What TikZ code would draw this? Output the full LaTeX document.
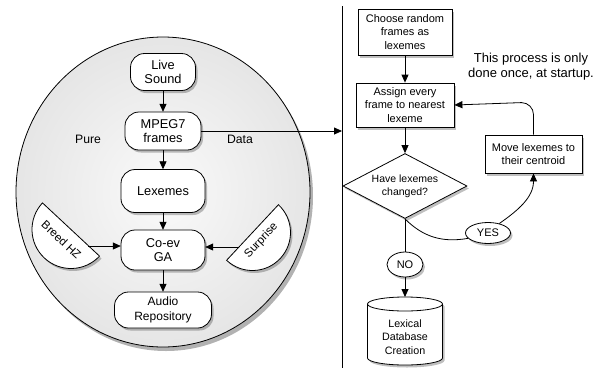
\documentclass[tikz,border=0pt]{standalone}
\usepackage{fontspec}
\setmainfont{Liberation Sans}
\usetikzlibrary{shapes.geometric, arrows.meta, shadows}
\newcommand\rbx[7]{%
  \path[draw, lw, fill=white, shad]
    ({#2-#4+14},{#3-#5}) -- ({#2+#4-14},{#3-#5})
    arc[start angle=90, end angle=0, radius=14pt]
    -- ({#2+#4},{#3+#5-14})
    arc[start angle=0, end angle=-90, radius=14pt]
    -- ({#2-#4+14},{#3+#5})
    arc[start angle=-90, end angle=-180, radius=14pt]
    -- ({#2-#4},{#3-#5+14})
    arc[start angle=180, end angle=90, radius=14pt] -- cycle;
  \node[align=center, inner sep=0pt, minimum width={2*#4}, minimum height={2*#5}, font={#6}] (#1) at (#2,#3) {#7};%
}
\begin{document}
\begin{tikzpicture}[x=1pt,y=-1pt,
  lw/.style={line width=0.8pt},
  shad/.style={drop shadow={shadow xshift=2pt, shadow yshift=-2.5pt, opacity=0.25, fill=black}},
  sbox/.style={draw, lw, fill=white, align=center, inner sep=0pt, shad, font=\fontsize{11}{13.5}\selectfont},
  oval/.style={ellipse, draw, lw, fill=white, shad, inner sep=0pt, font=\fontsize{11}{13}\selectfont},
  arr/.style={lw, -{Triangle[length=8pt,width=7pt]}},
  lbl/.style={font=\fontsize{12.2}{14}\selectfont}
]
\useasboundingbox (0,0) rectangle (595,373);
% big circle
\path[draw, lw, inner color=gray!4, outer color=gray!20,
  drop shadow={shadow xshift=3pt, shadow yshift=-4pt, opacity=0.3, fill=black}]
  (163,192) ellipse [x radius=147pt, y radius=155pt];
% left nodes
\rbx{live}{163}{72}{32.5}{18.5}{\fontsize{12.8}{14.5}\selectfont}{Live\\Sound}
\rbx{mpeg}{163}{131}{38}{19}{\fontsize{12.8}{14.5}\selectfont}{MPEG7\\frames}
\rbx{lex}{163}{191}{42}{21.5}{\fontsize{12.8}{14.5}\selectfont}{Lexemes}
\rbx{coev}{163}{250}{42}{20}{\fontsize{12.8}{14.5}\selectfont}{Co-ev\\GA}
\rbx{audio}{163}{310}{48.5}{18}{\fontsize{12}{14.5}\selectfont}{Audio\\Repository}
% half disks
\begin{scope}[shift={(71,229.5)}, rotate=-43]
  \path[draw, lw, fill=white, shad] (-39pt,0pt) arc[start angle=180, end angle=360, radius=39pt] -- cycle;
  \node[transform shape, font=\fontsize{11.5}{13}\selectfont] (breed) at (0pt,-14pt) {Breed HZ};
\end{scope}
\begin{scope}[shift={(252.5,232.5)}, rotate=47]
  \path[draw, lw, fill=white, shad] (-38pt,0pt) arc[start angle=180, end angle=360, radius=38pt] -- cycle;
  \node[transform shape, font=\fontsize{11.5}{13}\selectfont] (surp) at (0pt,-12pt) {Surprise};
\end{scope}
\node[lbl] (pure) at (88,139) {Pure};
\node[lbl] (data) at (240,139) {Data};
% divider
\coordinate (vtop) at (342,6);
\coordinate (vbot) at (342,368);
\draw[lw] (vtop) -- (vbot);
% right nodes
\node[sbox, minimum width=94pt, minimum height=46pt] (choose) at (405,32) {Choose random\\frames as\\lexemes};
\node[sbox, minimum width=98pt, minimum height=44pt] (assign) at (405,105) {Assign every\\frame to nearest\\lexeme};
\node[diamond, draw, lw, fill=white, shad, minimum width=124pt, minimum height=65pt, aspect=1.9, inner sep=0pt, align=center, font=\fontsize{10.5}{13}\selectfont] (dia) at (405,186) {Have lexemes\\changed?};
\node[sbox, minimum width=97pt, minimum height=38pt] (move) at (533.5,154) {Move lexemes to\\their centroid};
\node[oval, minimum width=45pt, minimum height=21pt] (yes) at (488,233) {YES};
\node[oval, minimum width=36pt, minimum height=25pt] (no) at (405,264.5) {NO};
% cylinder
\path[draw, lw, fill=white, shad] (367.5,304) -- (367.5,358)
  arc[start angle=180, end angle=360, x radius=37.5pt, y radius=7pt] -- (442.5,304)
  arc[start angle=0, end angle=180, x radius=37.5pt, y radius=7pt] -- cycle;
\draw[lw] (367.5,304) arc[start angle=180, end angle=360, x radius=37.5pt, y radius=7pt];
\coordinate (cyltop) at (405,297);
\node[align=center, font=\fontsize{10.7}{13.5}\selectfont] (cyl) at (405,337) {Lexical\\Database\\Creation};
\node[align=center, font=\fontsize{13}{15}\selectfont] (note) at (531,67) {This process is only\\done once, at startup.};
% connectors
\draw[arr] (live) -- (mpeg);
\draw[arr] (mpeg) -- (lex);
\draw[arr] (lex) -- (coev);
\draw[arr] (coev) -- (audio);
\draw[arr] (mpeg.east) -- (mpeg.east -| vtop);
\coordinate (bpt) at (88,246);
\draw[arr] (bpt) -- (bpt -| coev.west);
\coordinate (spt) at (239,247);
\draw[arr] (spt) -- (spt -| coev.east);
\draw[arr] (choose) -- (assign);
\draw[arr] (assign) -- (dia);
\draw[lw] (dia.south) -- (no.north);
\draw[arr] (no.south) -- (cyltop);
\draw[lw] (dia.south) to[out=-45, in=190] (yes.195);
\draw[arr] (yes.40) to[out=35, in=-90] (move.south);
\draw[arr] (move.north) -- ++(0,-20) arc[start angle=0, end angle=90, radius=12pt] -- (assign.east);
\end{tikzpicture}
\end{document}
